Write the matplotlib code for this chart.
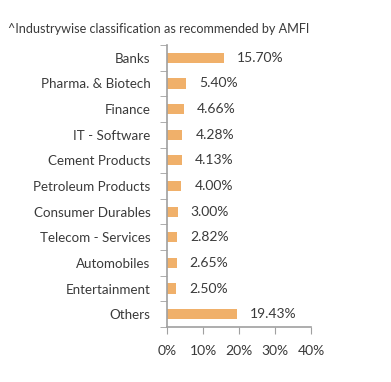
import matplotlib
matplotlib.use("Agg")
import matplotlib.pyplot as plt
from matplotlib.ticker import FixedLocator

categories = ["Banks", "Pharma. & Biotech", "Finance", "IT - Software", "Cement Products",
              "Petroleum Products", "Consumer Durables", "Telecom - Services", "Automobiles",
              "Entertainment", "Others"]
values = [15.70, 5.40, 4.66, 4.28, 4.13, 4.00, 3.00, 2.82, 2.65, 2.50, 19.43]
value_labels = ["15.70%", "5.40%", "4.66%", "4.28%", "4.13%", "4.00%", "3.00%", "2.82%",
                "2.65%", "2.50%", "19.43%"]
xticks = [0, 10, 20, 30, 40]
xtick_labels = ["0%", "10%", "20%", "30%", "40%"]
title = "^Industrywise classification as recommended by AMFI"

plt.rcParams['font.family'] = ['Lato', 'DejaVu Sans']
text_color = "#3a3a3a"
bar_color = "#F0B06A"
spine_color = "#A0A0A0"

fig = plt.figure(figsize=(3.91, 3.82), dpi=100)
ax = fig.add_axes([167/391, 55/382, 144/391, 282/382])

n = len(categories)
ypos = list(range(n))
ax.barh(ypos, values, height=0.4, color=bar_color, left=0)
ax.set_ylim(n - 0.5, -0.5)
ax.set_xlim(0, 40)

for y, v, lab in zip(ypos, values, value_labels):
    ax.annotate(lab, (v, y), xytext=(13, 0), textcoords="offset pixels",
                ha="left", va="center", fontsize=10, color=text_color)

ax.set_yticks(ypos)
ax.set_yticklabels(categories, fontsize=9.6, color=text_color)
ax.tick_params(axis="y", which="major", length=0, pad=12)
ax.yaxis.set_minor_locator(FixedLocator([i - 0.5 for i in range(n + 1)]))
ax.tick_params(axis="y", which="minor", length=5, color=spine_color, direction="out")

ax.set_xticks(xticks)
ax.set_xticklabels(xtick_labels, fontsize=10, color=text_color)
ax.tick_params(axis="x", length=5, color=spine_color, direction="out", pad=8)

for s in ["top", "right"]:
    ax.spines[s].set_visible(False)
for s in ["left", "bottom"]:
    ax.spines[s].set_color(spine_color)
    ax.spines[s].set_linewidth(1.2)

fig.text(8/391, 1 - 29/382, title, fontsize=9.1, color=text_color, ha="left", va="center")

fig.savefig("out.png", dpi=100)
